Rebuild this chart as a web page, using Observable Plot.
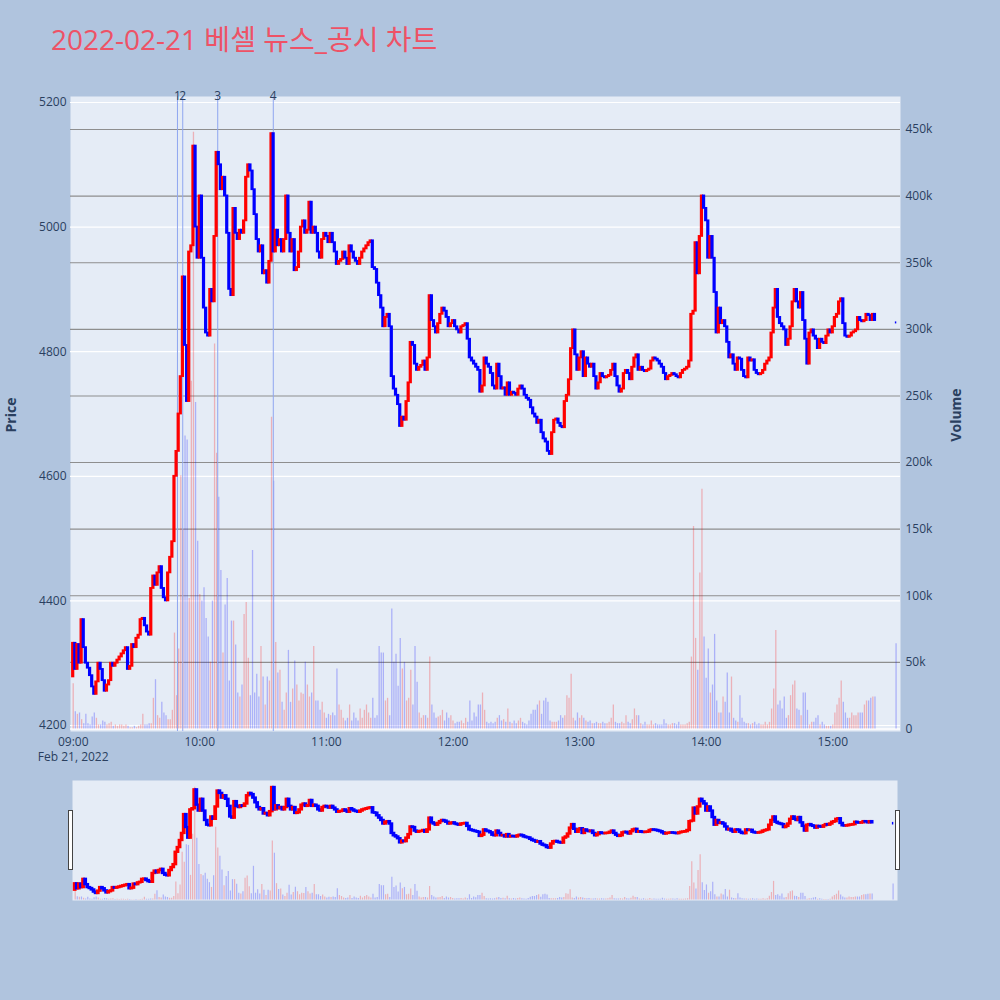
<!DOCTYPE html>
<html>
<head>
<meta charset="utf-8">
<script src="https://cdn.jsdelivr.net/npm/d3@7"></script>
<script src="https://cdn.jsdelivr.net/npm/@observablehq/plot@0.6"></script>
<style>
  html, body { margin: 0; padding: 0; background: #B0C4DE; }
  #root { position: relative; width: 1000px; height: 1000px; background: #B0C4DE; overflow: hidden;
          font-family: "Open Sans", "Noto Sans CJK KR", sans-serif; }
  #root svg { position: absolute; left: 0; }
  .title { position: absolute; left: 51px; top: 25px; font-size: 28px; line-height: 1; color: rgb(238,82,102);
           font-family: "Open Sans", "Noto Sans CJK KR", sans-serif; white-space: nowrap; }
  .ytitle { position: absolute; font-size: 14px; font-weight: 700; color: #2a3f5f; white-space: nowrap;
            transform: translate(-50%, -50%) rotate(-90deg); }
  .handle { position: absolute; width: 3px; height: 58px; background: #fff; border: 1px solid #444; }
</style>
</head>
<body>
<div id="root">
  <div class="title">2022-02-21 베셀 뉴스_공시 차트</div>
  <div class="ytitle" style="left:10px;top:415px;">Price</div>
  <div class="ytitle" style="left:955px;top:415px;">Volume</div>
</div>
<script>
// ---------------- data ----------------
const sessionDate = "2022-02-21";
const firstOpen = 4278;
// 1-minute closing prices from 09:00 (one per minute)
const closes = [
  4332,4290,4330,4300,4370,4325,4300,4292,4280,4262,
  4250,4270,4300,4290,4272,4255,4265,4272,4300,4295,
  4300,4305,4310,4315,4320,4325,4290,4295,4330,4325,
  4340,4345,4370,4372,4360,4350,4345,4420,4440,4425,
  4445,4455,4420,4405,4400,4445,4470,4495,4600,4640,
  4700,4760,4920,4810,4720,4960,4970,5130,5000,4950,
  5050,4950,4870,4830,4825,4900,4880,4985,5120,5100,
  5060,5080,5050,4990,4900,4890,5030,4990,4980,4995,
  4990,5010,5080,5100,5090,5060,5020,4980,4960,4970,
  4925,4930,4910,4945,5150,4960,4995,4970,4980,4960,
  4980,5050,4990,4960,4980,4930,4935,4960,5000,5010,
  4990,4995,5040,4990,5000,4990,4960,4950,4980,4990,
  4985,4975,4990,4975,4960,4940,4945,4948,4960,4950,
  4940,4970,4960,4950,4945,4940,4950,4960,4965,4970,
  4975,4978,4935,4932,4910,4890,4870,4840,4855,4860,
  4840,4760,4740,4730,4715,4680,4695,4690,4720,4750,
  4815,4810,4780,4770,4775,4778,4785,4770,4790,4890,
  4850,4840,4830,4845,4860,4870,4865,4855,4840,4845,
  4850,4840,4835,4830,4840,4842,4845,4820,4790,4785,
  4780,4775,4770,4735,4745,4790,4780,4775,4765,4745,
  4740,4780,4760,4740,4742,4730,4750,4730,4735,4733,
  4730,4740,4745,4740,4730,4725,4722,4710,4700,4695,
  4685,4690,4670,4660,4655,4640,4635,4670,4690,4692,
  4685,4680,4678,4720,4730,4755,4805,4835,4795,4770,
  4790,4800,4760,4790,4780,4775,4780,4760,4740,4750,
  4765,4760,4758,4760,4762,4770,4780,4760,4745,4735,
  4740,4765,4770,4765,4755,4775,4790,4795,4770,4775,
  4770,4768,4770,4772,4785,4790,4788,4785,4780,4775,
  4765,4755,4760,4762,4765,4763,4760,4758,4765,4770,
  4772,4775,4785,4860,4865,4975,4925,4985,5050,5030,
  5010,4950,4985,4950,4895,4830,4870,4845,4850,4840,
  4815,4790,4795,4780,4770,4790,4788,4770,4760,4758,
  4790,4785,4787,4770,4765,4763,4765,4770,4780,4785,
  4790,4830,4870,4900,4855,4845,4840,4835,4810,4820,
  4840,4880,4900,4880,4870,4895,4850,4820,4780,4830,
  4835,4825,4820,4805,4820,4815,4813,4825,4835,4830,
  4840,4855,4860,4880,4885,4845,4825,4823,4825,4830,
  4832,4835,4855,4850,4848,4850,4860,4858,4850,4860,4850
];
// 1-minute volumes (thousands of shares) from 09:00
const volumesK = [
  34,13,11,12,7,4,11,4,3,9,
  12,8,3,3,6,5,3,4,5,2,
  3,2,3,3,2,3,2,1,1,2,
  1,2,3,11,3,3,4,4,23,37,
  10,8,20,12,10,7,7,14,72,25,
  60,190,150,220,217,98,261,448,245,141,
  101,96,106,83,69,50,96,289,207,174,
  119,57,93,113,36,81,81,63,27,24,
  33,86,95,53,25,134,27,41,24,62,
  39,18,39,36,234,186,65,42,44,20,
  14,27,59,20,30,51,33,21,27,26,
  50,33,24,27,62,21,21,14,20,12,
  8,11,10,12,10,45,18,14,8,6,
  8,18,6,12,8,6,15,8,14,18,
  12,8,23,8,10,62,57,57,21,23,
  10,90,50,56,32,68,45,50,21,23,
  44,18,62,35,12,8,10,10,8,54,
  18,12,8,9,10,14,6,12,8,10,
  6,4,5,5,6,4,8,5,21,6,
  12,9,18,18,27,14,5,4,5,4,
  5,8,10,6,7,5,15,5,4,6,
  4,6,8,5,4,3,6,11,14,14,
  18,21,11,21,23,20,6,5,5,5,
  6,10,8,10,25,23,41,8,6,12,
  8,10,8,6,5,6,4,4,5,4,
  4,5,4,4,5,8,18,5,4,4,
  5,4,10,5,4,7,15,10,10,4,
  3,5,3,3,6,3,4,3,3,3,
  7,4,3,3,4,4,3,5,3,3,
  3,4,5,54,152,68,44,117,180,69,
  38,60,27,33,71,21,12,12,24,20,
  42,12,39,8,6,5,25,8,5,4,
  4,3,4,5,3,4,3,3,5,3,
  5,15,30,74,18,21,15,24,8,10,
  25,33,36,15,14,10,27,27,14,3,
  5,5,8,10,3,5,3,2,2,2,
  3,12,18,23,36,20,12,8,8,12,
  10,10,12,12,12,18,21,21,23,24,24
];
// closing auction
const auctionTime = "15:30";
const auctionPrice = 4847;
const auctionVolumeK = 64;
// news / disclosure markers
const eventTimes = ["09:49:25", "09:51:55", "10:08:30", "10:34:50"];
const eventLabels = ["1", "2", "3", "4"];
// axis ticks
const priceTicks = [4200, 4400, 4600, 4800, 5000, 5200];
const volumeTicksK = [0, 50, 100, 150, 200, 250, 300, 350, 400, 450];
const hourTicks = ["09:00", "10:00", "11:00", "12:00", "13:00", "14:00", "15:00"];
const dateLabel = "Feb 21, 2022";

// ---------------- helpers ----------------
const [Y, M, D] = sessionDate.split("-").map(Number);
const at = s => { const [h, mi, se = 0] = s.split(":").map(Number); return new Date(Date.UTC(Y, M - 1, D, h, mi, se)); };
const t0 = at("09:00");
const minute = i => new Date(+t0 + i * 60000);

const UP = "red", DOWN = "blue";
const candles = closes.map((c, i) => {
  const o = i === 0 ? firstOpen : closes[i - 1];
  return { t: minute(i), open: o, close: c, c: c > o ? UP : DOWN };
});
candles.push({ t: at(auctionTime), open: auctionPrice, close: auctionPrice, c: DOWN });
const bodies = candles.filter(d => d.open !== d.close);
const dojis = candles.filter(d => d.open === d.close);
const vols = volumesK.map((v, i) => ({ t: minute(i), v, c: candles[i].c }));
vols.push({ t: at(auctionTime), v: auctionVolumeK, c: DOWN });
const events = eventTimes.map((s, i) => ({ t: at(s), label: eventLabels[i] }));

const xDomain = [new Date(+t0 - 1.28 * 60000), new Date(+t0 + 392.1 * 60000)];
const priceDomain = [4190.4, 5209.6];
const volDomain = [-1.9, 474.8];
const half = 20000;

const baseStyle = { fontFamily: "'Open Sans', sans-serif", fontSize: "12px", color: "#2a3f5f", background: "transparent", overflow: "visible" };
const mainGeom = { width: 1000, height: 760, marginLeft: 70, marginRight: 100, marginTop: 96, marginBottom: 29 };

const candleMarks = (sw) => [
  Plot.rect(bodies, { x1: d => new Date(+d.t - half), x2: d => new Date(+d.t + half), y1: "open", y2: "close", fill: "c", stroke: "c", strokeWidth: sw }),
  Plot.ruleY(dojis, { x1: d => new Date(+d.t - half), x2: d => new Date(+d.t + half), y: "close", stroke: "c", strokeWidth: sw + 0.2 })
];

// Layer 1: background, price grid, left & bottom axes
const layer1 = Plot.plot({
  ...mainGeom, style: baseStyle,
  color: { type: "identity" },
  x: { type: "utc", domain: xDomain, ticks: hourTicks.map(at), tickFormat: d3.utcFormat("%H:%M"), tickSize: 0, tickPadding: 6, label: null },
  y: { domain: priceDomain, ticks: priceTicks, tickFormat: d => String(d), tickSize: 0, tickPadding: 4, label: null },
  marks: [
    Plot.frame({ fill: "#E5ECF6", stroke: "none" }),
    Plot.ruleY(priceTicks, { stroke: "white", strokeWidth: 1.2 }),
    Plot.text([dateLabel], { x: () => t0, text: d => d, frameAnchor: "bottom", lineAnchor: "middle", dy: 26, fontSize: 12, fill: "#2a3f5f" })
  ]
});

// Layer 2: volume grid, bars, right axis
const layer2 = Plot.plot({
  ...mainGeom, style: baseStyle,
  color: { type: "identity" },
  x: { type: "utc", domain: xDomain, axis: null },
  y: { domain: volDomain, axis: "right", ticks: volumeTicksK, tickFormat: d => d === 0 ? "0" : d + "k", tickSize: 0, tickPadding: 5, label: null },
  marks: [
    Plot.ruleY([0], { stroke: "white", strokeWidth: 1.5 }),
    Plot.ruleY(volumeTicksK.filter(v => v > 0), { stroke: "#8e8e8e", strokeWidth: 1.1 }),
    Plot.ruleX(vols, { x: "t", y1: 0, y2: "v", stroke: "c", strokeOpacity: 0.25, strokeWidth: 1.3 })
  ]
});

// Layer 3: event lines, candles, labels
const layer3 = Plot.plot({
  ...mainGeom, style: baseStyle,
  color: { type: "identity" },
  x: { type: "utc", domain: xDomain, axis: null },
  y: { domain: priceDomain, axis: null },
  marks: [
    Plot.ruleX(events, { x: "t", stroke: "#8fa6f0", strokeWidth: 1 }),
    ...candleMarks(1.8),
    Plot.text(events, { x: "t", text: "label", frameAnchor: "top", lineAnchor: "middle", dy: 0, fontSize: 12, fill: "#2a3f5f" })
  ]
});

// Range slider
const sliderGeom = { width: 1000, height: 120, marginLeft: 72, marginRight: 103, marginTop: 0, marginBottom: 0 };
const slider1 = Plot.plot({
  ...sliderGeom, style: baseStyle,
  color: { type: "identity" },
  x: { type: "utc", domain: xDomain, axis: null },
  y: { domain: volDomain, axis: null },
  marks: [
    Plot.frame({ fill: "#E5ECF6", stroke: "none" }),
    Plot.ruleX(vols, { x: "t", y1: 0, y2: "v", stroke: "c", strokeOpacity: 0.25, strokeWidth: 1.2 })
  ]
});
const slider2 = Plot.plot({
  ...sliderGeom, style: baseStyle,
  color: { type: "identity" },
  x: { type: "utc", domain: xDomain, axis: null },
  y: { domain: priceDomain, axis: null },
  marks: candleMarks(2.4)
});

const root = document.getElementById("root");
for (const [el, top] of [[layer1, 0], [layer2, 0], [layer3, 0], [slider1, 780], [slider2, 780]]) {
  el.style.top = top + "px";
  root.appendChild(el);
}
for (const left of [68, 895]) {
  const h = document.createElement("div");
  h.className = "handle";
  h.style.left = left + "px";
  h.style.top = "810px";
  root.appendChild(h);
}
</script>
</body>
</html>
